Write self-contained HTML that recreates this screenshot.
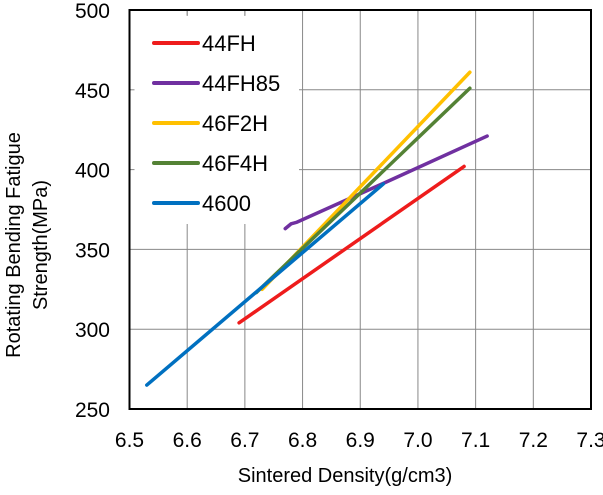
<!DOCTYPE html>
<html><head><meta charset="utf-8"><style>
body{margin:0;background:#fff;}
svg text{font-family:"Liberation Sans",sans-serif;fill:#000;}
</style></head><body>
<svg id="c" width="603" height="490" xmlns="http://www.w3.org/2000/svg"></svg>
<script>
const xTicks=[6.5,6.6,6.7,6.8,6.9,7.0,7.1,7.2,7.3];
const xTickLabels=["6.5","6.6","6.7","6.8","6.9","7.0","7.1","7.2","7.3"];
const yTicks=[250,300,350,400,450,500];
const seriesNames=["44FH","44FH85","46F2H","46F4H","4600"];
const seriesColors=["#ee1c1c","#7030a0","#ffc000","#548235","#0070c0"];
const s44FHx=[6.69,7.08], s44FHy=[304,402];
const s44FH85x=[6.77,6.78,6.79,6.95,7.12], s44FH85y=[363,366,367,393,421];
const s46F2Hx=[6.73,7.09], s46F2Hy=[325,461];
const s46F4Hx=[6.72,7.09], s46F4Hy=[323,451];
const s4600x=[6.53,6.94], s4600y=[265,391];
const seriesX=[s44FHx,s44FH85x,s46F2Hx,s46F4Hx,s4600x];
const seriesY=[s44FHy,s44FH85y,s46F2Hy,s46F4Hy,s4600y];

const L=129.5,R=591,T=10,B=409;
const X=v=>L+(v-6.5)/(0.8)*(R-L);
const Y=v=>B-(v-250)/250*(B-T);
const svg=document.getElementById('c');
const NS='http://www.w3.org/2000/svg';
function mk(t,a,p){const e=document.createElementNS(NS,t);for(const k in a)e.setAttribute(k,a[k]);(p||svg).appendChild(e);return e;}

xTicks.forEach((v,i)=>{
  const g=mk('line',{x1:X(v),x2:X(v),y1:T,y2:B,stroke:'#888','stroke-width':1});
  
  
  const t=mk('text',{x:X(v),y:447,'text-anchor':'middle','font-size':21});
  t.textContent=xTickLabels[i];
  
  
});
yTicks.forEach(v=>{
  const g=mk('line',{x1:L,x2:R,y1:Y(v),y2:Y(v),stroke:'#888','stroke-width':1});
  
  
  const t=mk('text',{x:110,y:Y(v)+8,'text-anchor':'end','font-size':21});
  t.textContent=String(v);
  
  
});
const lb=mk('rect',{x:131,y:16,width:168,height:208,fill:'#fff'});


[6.6,6.7].forEach(v=>{const t=mk('line',{x1:X(v),x2:X(v),y1:T,y2:T+5,stroke:'#888'});});
[450,400].forEach(v=>{const t=mk('line',{x1:L,x2:L+5,y1:Y(v),y2:Y(v),stroke:'#888'});});
const fr=mk('rect',{x:L,y:T,width:R-L,height:B-T,fill:'none',stroke:'#000','stroke-width':2});



seriesNames.forEach((n,i)=>{
  const pts=seriesX[i].map((x,j)=>X(x)+','+Y(seriesY[i][j])).join(' ');
  const p=mk('polyline',{points:pts,fill:'none',stroke:seriesColors[i],'stroke-width':3.5,'stroke-linecap':'round'});
  
  
  const ly=43+i*40;
  const ll=mk('line',{x1:154,x2:198,y1:ly,y2:ly,stroke:seriesColors[i],'stroke-width':4,'stroke-linecap':'round'});
  
  
  const lt=mk('text',{x:202,y:ly+8,'font-size':22});
  lt.textContent=n;
  
  
});
const xt=mk('text',{x:345,y:482,'text-anchor':'middle','font-size':20});
xt.textContent='Sintered Density(g/cm3)';


const yt=mk('text',{transform:'translate(20,245) rotate(-90)','text-anchor':'middle','font-size':20});
yt.textContent='Rotating Bending Fatigue';


const yt2=mk('text',{transform:'translate(47,245) rotate(-90)','text-anchor':'middle','font-size':20});
yt2.textContent='Strength(MPa)';


</script>
</body></html>
